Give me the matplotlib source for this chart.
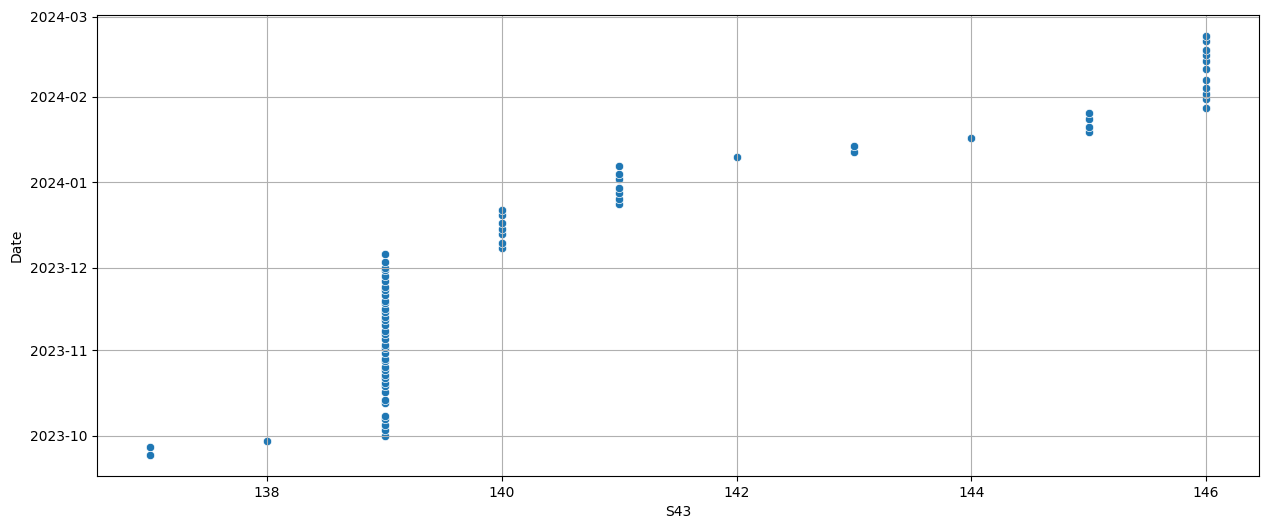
import matplotlib
matplotlib.use("Agg")
import matplotlib.pyplot as plt
import pandas as pd
import seaborn as sns

# S43 value and dates
s43_137 = ["2023-09-24", "2023-09-27"]
s43_138 = ["2023-09-29"]
s43_139 = ["2023-10-01", "2023-10-03", "2023-10-05", "2023-10-07", "2023-10-08",
           "2023-10-13", "2023-10-14", "2023-10-17", "2023-10-19", "2023-10-20",
           "2023-10-22", "2023-10-23", "2023-10-25", "2023-10-26", "2023-10-28",
           "2023-10-29", "2023-10-31", "2023-11-02", "2023-11-03", "2023-11-05",
           "2023-11-07", "2023-11-08", "2023-11-10", "2023-11-12", "2023-11-13",
           "2023-11-15", "2023-11-16", "2023-11-18", "2023-11-19", "2023-11-21",
           "2023-11-23", "2023-11-24", "2023-11-26", "2023-11-28", "2023-11-30",
           "2023-12-01", "2023-12-03", "2023-12-06"]
s43_140 = ["2023-12-08", "2023-12-10", "2023-12-13", "2023-12-15", "2023-12-17",
           "2023-12-20", "2023-12-22"]
s43_141 = ["2023-12-24", "2023-12-26", "2023-12-28", "2023-12-30", "2024-01-02",
           "2024-01-04", "2024-01-07"]
s43_142 = ["2024-01-10"]
s43_143 = ["2024-01-12", "2024-01-14"]
s43_144 = ["2024-01-17"]
s43_145 = ["2024-01-19", "2024-01-21", "2024-01-24", "2024-01-26"]
s43_146 = ["2024-01-28", "2024-01-31", "2024-02-02", "2024-02-04", "2024-02-07",
           "2024-02-11", "2024-02-14", "2024-02-16", "2024-02-18", "2024-02-21",
           "2024-02-23"]

groups = {137: s43_137, 138: s43_138, 139: s43_139, 140: s43_140, 141: s43_141,
          142: s43_142, 143: s43_143, 144: s43_144, 145: s43_145, 146: s43_146}

rows = []
for val, dates in groups.items():
    for d in dates:
        rows.append({"S43": val, "Date": pd.Timestamp(d)})
df = pd.DataFrame(rows)

fig = plt.figure(figsize=(12.69, 5.29), dpi=100)
ax = fig.add_axes([0.0764, 0.1002, 0.9157, 0.8714])
sns.scatterplot(data=df, x="S43", y="Date", ax=ax)
ax.grid(True)

fig.savefig("out.png", dpi=100)
